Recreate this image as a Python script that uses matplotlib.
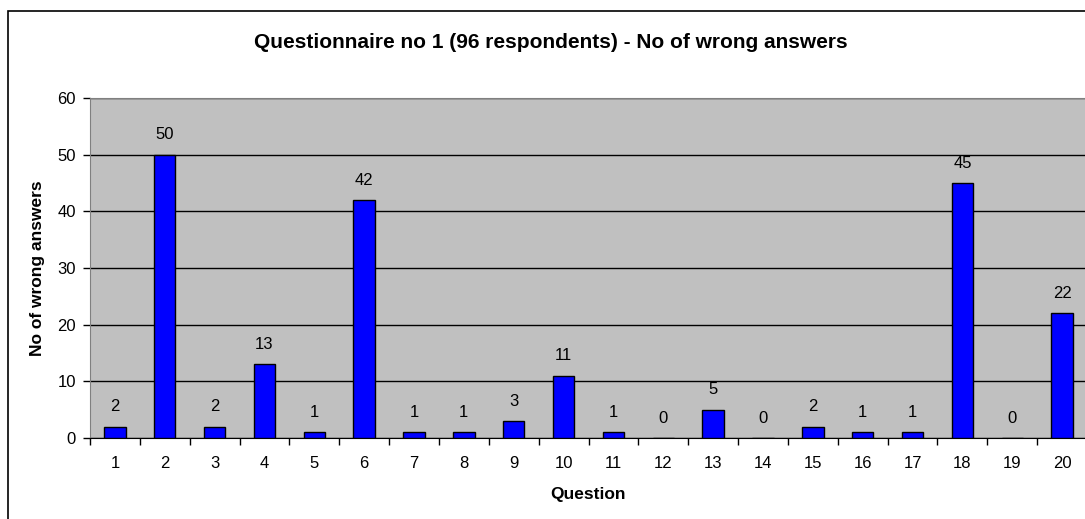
import matplotlib.pyplot as plt
import numpy as np
from matplotlib.patches import Rectangle

plt.rcParams['font.family'] = ['Liberation Sans', 'DejaVu Sans']

questions = [str(i) for i in range(1, 21)]
wrong = [2, 50, 2, 13, 1, 42, 1, 1, 3, 11, 1, 0, 5, 0, 2, 1, 1, 45, 0, 22]

W, H = 1085, 519
fig = plt.figure(figsize=(W / 100, H / 100), dpi=100)
fig.patch.set_facecolor('white')

# outer chart frame (runs off the right/bottom edge)
fig.patches.append(Rectangle((8 / W, -0.1), 1.2, (H - 11) / H + 0.1,
                             transform=fig.transFigure, fill=False,
                             edgecolor='black', linewidth=1.2))

ax = fig.add_axes([90 / W, 81 / H, 997 / W, 340 / H])
ax.set_facecolor('#c0c0c0')

x = np.arange(1, len(wrong) + 1)
ax.bar(x, wrong, width=0.43, color='#0000ff', edgecolor='black', linewidth=1, zorder=3)
for xi, v in zip(x, wrong):
    ax.text(xi, v + 3.5, str(v), ha='center', va='center', fontsize=12, zorder=4)

ax.set_xlim(0.5, 20.5)
ax.set_ylim(0, 60)
ax.set_yticks(range(0, 61, 10))
ax.yaxis.grid(True, color='black', linewidth=1, zorder=1)
ax.set_axisbelow(True)

ax.set_xticks(np.arange(0.5, 21, 1))
ax.set_xticklabels([])
ax.set_xticks(x, minor=True)
ax.set_xticklabels(questions, minor=True)
ax.tick_params(axis='x', which='minor', length=0, pad=13, labelsize=12)
ax.tick_params(axis='x', which='major', length=5, direction='out', width=1)
ax.tick_params(axis='y', length=5, direction='out', width=1, labelsize=12, pad=5)

for side in ['top', 'right', 'left']:
    ax.spines[side].set_color('#808080')
ax.spines['bottom'].set_color('black')

fig.text(588 / W, 1 - 495 / H, 'Question', ha='center', va='center',
         fontsize=12.5, fontweight='bold')
fig.text(38 / W, 1 - 268 / H, 'No of wrong answers', ha='center', va='center',
         rotation=90, fontsize=12.5, fontweight='bold')
fig.text(551 / W, 1 - 43 / H, 'Questionnaire no 1 (96 respondents) - No of wrong answers',
         ha='center', va='center', fontsize=15, fontweight='bold')

fig.savefig('out.png', dpi=100)
